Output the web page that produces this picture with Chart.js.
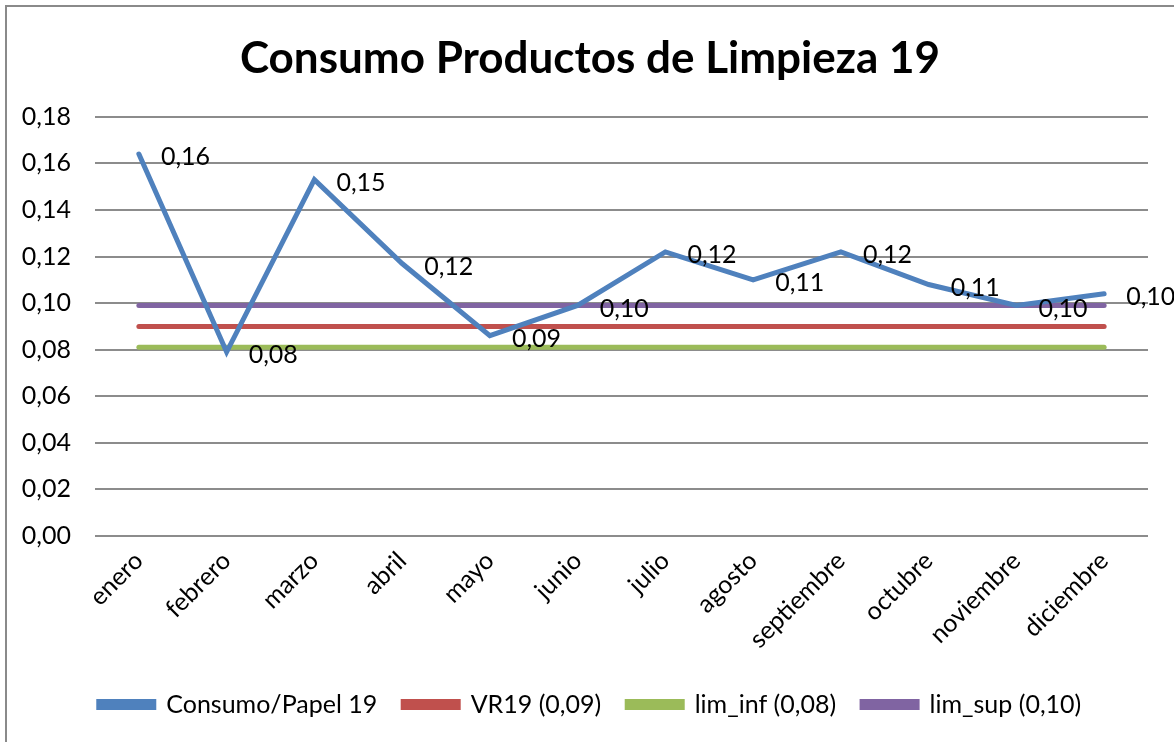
<!DOCTYPE html>
<html>
<head>
<meta charset="utf-8">
<script src="https://cdn.jsdelivr.net/npm/chart.js@4/dist/chart.umd.min.js"></script>
<style>
  html, body { margin: 0; padding: 0; background: #fff; overflow: hidden; }
  #wrap { position: absolute; left: 0; top: 0; width: 1180px; height: 742px; }
  #frame { position: absolute; left: 5px; top: 5px; width: 1300px; height: 900px;
    border-top: 2px solid #8a8a8a; border-left: 2px solid #8a8a8a; pointer-events: none; }
</style>
</head>
<body>
<div id="wrap"><canvas id="chart" width="1180" height="742"></canvas></div>
<div id="frame"></div>
<script>
// Chart data
const months = ['enero', 'febrero', 'marzo', 'abril', 'mayo', 'junio', 'julio',
  'agosto', 'septiembre', 'octubre', 'noviembre', 'diciembre']
const consumo = [0.164, 0.079, 0.153, 0.117, 0.086, 0.099, 0.122, 0.110, 0.122, 0.108, 0.099, 0.104]
const vr19 = [0.09, 0.09, 0.09, 0.09, 0.09, 0.09, 0.09, 0.09, 0.09, 0.09, 0.09, 0.09]
const limInf = [0.081, 0.081, 0.081, 0.081, 0.081, 0.081, 0.081, 0.081, 0.081, 0.081, 0.081, 0.081]
const limSup = [0.099, 0.099, 0.099, 0.099, 0.099, 0.099, 0.099, 0.099, 0.099, 0.099, 0.099, 0.099]
const seriesNames = ['Consumo/Papel 19', 'VR19 (0,09)', 'lim_inf (0,08)', 'lim_sup (0,10)']

const fontFamily = 'Lato, "Open Sans", sans-serif'
const fmt = (v) => v.toFixed(2).replace('.', ',')

// Value labels to the right of each point of the first series
const valueLabels = {
  id: 'valueLabels',
  afterDatasetsDraw(chart) {
    const ctx = chart.ctx
    const meta = chart.getDatasetMeta(0)
    ctx.save()
    ctx.font = `25px ${fontFamily}`
    ctx.fillStyle = '#000'
    ctx.textAlign = 'left'
    ctx.textBaseline = 'middle'
    meta.data.forEach((pt, i) => {
      ctx.fillText(fmt(consumo[i]), pt.x + 22, pt.y + 3)
    })
    ctx.restore()
  }
}

const lineDs = (label, data, color) => ({
  label,
  data,
  borderColor: color,
  backgroundColor: color,
  borderWidth: 5,
  pointRadius: 0,
  tension: 0,
  borderCapStyle: 'round'
})

new Chart(document.getElementById('chart'), {
  type: 'line',
  data: {
    labels: months,
    datasets: [
      lineDs(seriesNames[0], consumo, '#4F81BD'),
      lineDs(seriesNames[1], vr19, '#C0504D'),
      lineDs(seriesNames[2], limInf, '#9BBB59'),
      lineDs(seriesNames[3], limSup, '#8064A2')
    ]
  },
  options: {
    responsive: false,
    animation: false,
    layout: { padding: { left: 0, right: 0, top: 0, bottom: 15 } },
    plugins: {
      title: {
        display: true,
        text: 'Consumo Productos de Limpieza 19',
        color: '#000',
        font: { family: fontFamily, size: 44, weight: 'bold' },
        padding: { top: 32, bottom: 32 }
      },
      legend: {
        position: 'bottom',
        labels: {
          color: '#000',
          font: { family: fontFamily, size: 25 },
          boxWidth: 55,
          boxHeight: 6,
          padding: 26
        }
      },
      tooltip: { enabled: false }
    },
    scales: {
      x: {
        offset: true,
        afterFit(scale) { scale.height = 130 },
        grid: { display: false, drawTicks: false },
        border: { display: false },
        ticks: {
          color: '#000',
          font: { family: fontFamily, size: 25 },
          minRotation: 45,
          maxRotation: 45,
          padding: 10
        }
      },
      y: {
        min: 0,
        max: 0.18,
        afterFit(scale) { scale.width = 95 },
        grid: { color: '#8c8c8c', lineWidth: 2, drawTicks: false },
        border: { display: false },
        ticks: {
          stepSize: 0.02,
          color: '#000',
          font: { family: fontFamily, size: 25 },
          padding: 24,
          callback: (v) => fmt(v)
        }
      },
      // empty right-hand margin so the plot ends where the reference does
      yRight: {
        position: 'right',
        afterFit(scale) { scale.width = 32 },
        grid: { display: false, drawTicks: false },
        border: { display: false },
        ticks: { display: false }
      }
    }
  },
  plugins: [valueLabels]
})
</script>
</body>
</html>
